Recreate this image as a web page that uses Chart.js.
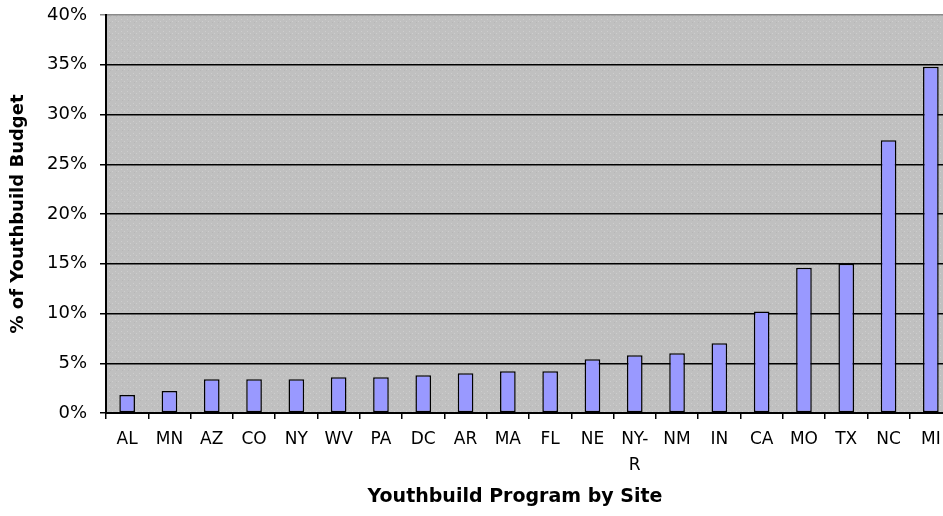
<!DOCTYPE html>
<html>
<head>
<meta charset="utf-8">
<script src="https://cdn.jsdelivr.net/npm/chart.js@4/dist/chart.umd.min.js"></script>
<style>
  html, body { margin: 0; padding: 0; background: #fff; overflow: hidden; }
  #wrap { width: 943px; height: 516px; overflow: hidden; }
</style>
</head>
<body>
<div id="wrap">
  <canvas id="myChart" width="952" height="516"></canvas>
</div>
<script>
// sites, sorted by share of budget
var sites = ['AL', 'MN', 'AZ', 'CO', 'NY', 'WV', 'PA', 'DC', 'AR', 'MA', 'FL', 'NE', 'NY-R', 'NM', 'IN', 'CA', 'MO', 'TX', 'NC', 'MI'];
// % of Youthbuild budget
var budgetShare = [1.8, 2.2, 3.4, 3.4, 3.4, 3.6, 3.6, 3.8, 4.0, 4.2, 4.2, 5.4, 5.8, 6.0, 7.0, 10.2, 14.6, 15.0, 27.4, 34.8];
var yTicks = [0, 5, 10, 15, 20, 25, 30, 35, 40];
var xTitle = 'Youthbuild Program by Site';

// long labels split onto two lines
var siteLabels = sites.map(function (s) {
    return s.indexOf('-') > 0 ? [s.slice(0, s.indexOf('-') + 1), s.slice(s.indexOf('-') + 1)] : s;
});

// speckled grey fill for the plot area
function makePattern(ctx) {
    var tile = document.createElement('canvas');
    tile.width = 6;
    tile.height = 6;
    var t = tile.getContext('2d');
    t.fillStyle = '#c0c0c0';
    t.fillRect(0, 0, 6, 6);
    t.fillStyle = '#cecece';
    t.fillRect(1, 1, 1, 1);
    t.fillRect(4, 3, 1, 1);
    t.fillStyle = '#b6b6b6';
    t.fillRect(2, 4, 1, 1);
    return ctx.createPattern(tile, 'repeat');
}

var plotBackground = {
    id: 'plotBackground',
    beforeDraw: function (chart) {
        var a = chart.chartArea;
        var c = chart.ctx;
        c.save();
        c.fillStyle = makePattern(c);
        c.fillRect(a.left, a.top, a.right - a.left, a.bottom - a.top);
        c.restore();
    },
    // x axis title, centred under the visible part of the plot
    afterDraw: function (chart) {
        var c = chart.ctx;
        var x = chart.scales.x;
        c.save();
        c.font = 'bold 19px "DejaVu Sans"';
        c.fillStyle = '#000';
        c.textAlign = 'center';
        c.textBaseline = 'middle';
        c.fillText(xTitle, (x.left + x.right) / 2 - 14, x.bottom - 19);
        c.restore();
    }
};

var ctx = document.getElementById('myChart').getContext('2d');
var myChart = new Chart(ctx, {
    type: 'bar',
    data: {
        labels: siteLabels,
        datasets: [{
            label: '% of Youthbuild Budget',
            data: budgetShare,
            backgroundColor: '#9999ff',
            borderColor: '#000',
            borderWidth: 1.5,
            borderSkipped: false,
            categoryPercentage: 1,
            barPercentage: 0.37
        }]
    },
    options: {
        responsive: false,
        animation: false,
        layout: {
            padding: { top: 15, right: 0, bottom: 0, left: 0 }
        },
        plugins: {
            legend: { display: false },
            tooltip: { enabled: false }
        },
        scales: {
            x: {
                offset: true,
                grid: {
                    offset: true,
                    drawOnChartArea: false,
                    drawTicks: true,
                    tickLength: 6,
                    color: '#000',
                    lineWidth: 1.5
                },
                border: { display: true, color: '#000', width: 2 },
                ticks: {
                    color: '#000',
                    padding: 7,
                    maxRotation: 0,
                    autoSkip: false,
                    font: { family: 'DejaVu Sans', size: 17, lineHeight: 1.55 }
                },
                afterFit: function (scale) { scale.height = 103; }
            },
            y: {
                min: 0,
                max: 40,
                afterBuildTicks: function (scale) {
                    scale.ticks = yTicks.map(function (v) { return { value: v }; });
                },
                grid: {
                    color: function (c) { return c.tick && c.tick.value === 40 ? '#8a8a8a' : '#000'; },
                    lineWidth: 1.5,
                    drawTicks: true,
                    tickLength: 6
                },
                border: { display: true, color: '#000', width: 2 },
                ticks: {
                    color: '#000',
                    padding: 13,
                    font: { family: 'DejaVu Sans', size: 18 },
                    callback: function (v) { return v + '%'; }
                },
                title: {
                    display: true,
                    text: '% of Youthbuild Budget',
                    color: '#000',
                    font: { family: 'DejaVu Sans', size: 18, weight: 'bold' },
                    padding: { top: 8, bottom: 0 }
                },
                afterFit: function (scale) {
                    scale.width = 106;
                    scale.paddingTop = 10;
                }
            }
        }
    },
    plugins: [plotBackground]
});
</script>
</body>
</html>
